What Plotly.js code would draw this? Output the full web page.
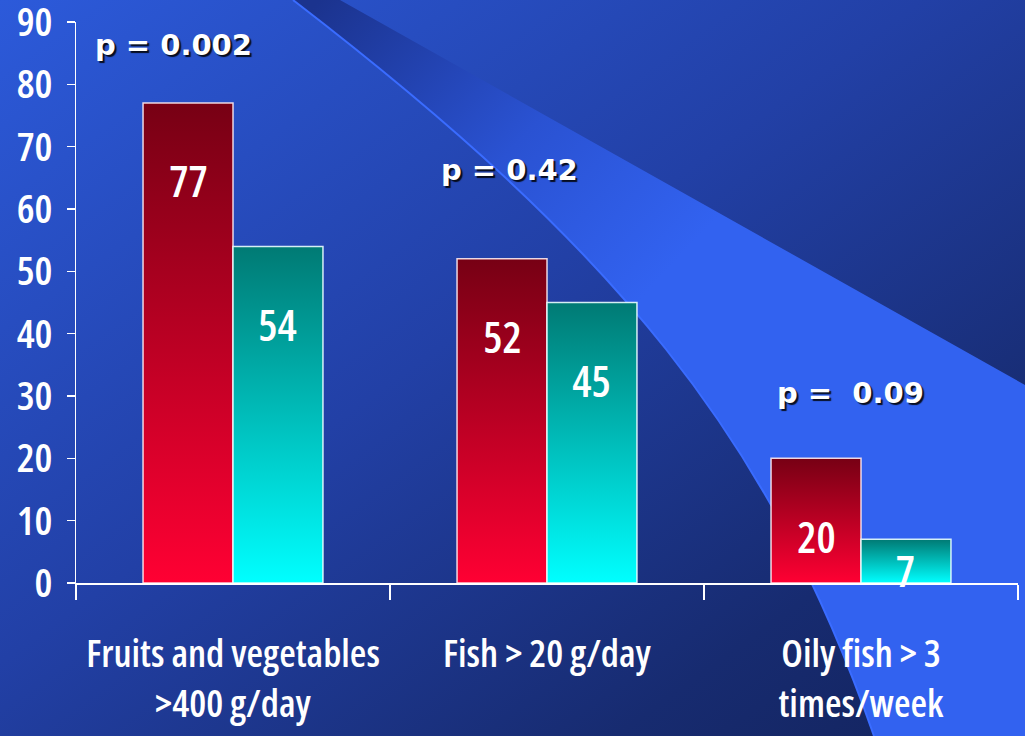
<!DOCTYPE html>
<html><head><meta charset="utf-8">
<script src="https://cdn.plot.ly/plotly-3.0.1.min.js"></script>
<style>
html,body{margin:0;padding:0;background:#1e3a9a;overflow:hidden;}
#chart{width:1025px;height:736px;background-size:100% 100%;background-repeat:no-repeat;}
#chart svg text{font-stretch:75%;}
#chart g.annotation[data-index="6"] text,
#chart g.annotation[data-index="7"] text,
#chart g.annotation[data-index="8"] text{font-stretch:100% !important;}
</style></head><body><div id="chart"></div>
<script>
// ---- data ----
const categories = ["Fruits and vegetables<br>>400 g/day", "Fish > 20 g/day", "Oily fish > 3<br>times/week"];
const seriesA = [77, 52, 20];   // red bars
const seriesB = [54, 45, 7];    // teal bars
const pLabels = ["p = 0.002", "p = 0.42", "p =\u00A0 0.09"];
const yTickVals = [0, 10, 20, 30, 40, 50, 60, 70, 80, 90];

// ---- background (decorative slide backdrop) ----
const bgSvg = `<svg xmlns="http://www.w3.org/2000/svg" width="1025" height="736" viewBox="0 0 1025 736">
<defs>
<linearGradient id="base" x1="0" y1="0" x2="1" y2="1">
<stop offset="0" stop-color="#2c5ada"/><stop offset="0.45" stop-color="#2240a6"/><stop offset="0.8" stop-color="#172b70"/><stop offset="1" stop-color="#13235c"/>
</linearGradient>
<linearGradient id="band" gradientUnits="userSpaceOnUse" x1="320" y1="0" x2="640" y2="300">
<stop offset="0" stop-color="#1b338e"/><stop offset="0.55" stop-color="#2a52d2"/><stop offset="1" stop-color="#3262f0"/>
</linearGradient>
</defs>
<rect width="1025" height="736" fill="url(#base)"/>
<path d="M293,0 C618,250 769,436 874,736 L1025,736 L1025,385 L340,0 Z" fill="url(#band)"/>
<path d="M293,0 C618,250 769,436 874,736" fill="none" stroke="#3a6cff" stroke-width="2"/>
</svg>`;
document.getElementById('chart').style.backgroundImage = 'url("data:image/svg+xml;charset=utf-8,' + encodeURIComponent(bgSvg) + '")';

const NARROW = "'Open Sans', 'Roboto Condensed', sans-serif";
const WIDE = "'DejaVu Sans', Verdana, sans-serif";

const bargap = 0.427;
const off = (1 - bargap) / 4;

const traces = [
  {type: 'bar', x: categories, y: seriesA, marker: {color: '#c0002a', line: {color: 'rgba(255,235,240,0.9)', width: 1.5}}, hoverinfo: 'none'},
  {type: 'bar', x: categories, y: seriesB, marker: {color: '#00c0c0', line: {color: 'rgba(235,255,255,0.9)', width: 1.5}}, hoverinfo: 'none'}
];

function labelY(v) { return Math.max(v - 12.5, v * 0.28); }

const annotations = [];
[seriesA, seriesB].forEach((s, k) => {
  s.forEach((v, i) => {
    annotations.push({x: i + (k === 0 ? -off : off), y: labelY(v), xref: 'x', yref: 'y', text: String(v), showarrow: false,
      yanchor: 'middle', xanchor: 'center', font: {family: NARROW, size: 43, color: '#ffffff', weight: 600}});
  });
});
const pPos = [[-0.19, 86.3], [0.88, 66.3], [1.965, 30.5]];
pLabels.forEach((t, i) => {
  annotations.push({x: pPos[i][0], y: pPos[i][1], xref: 'x', yref: 'y', text: t, showarrow: false, xanchor: 'center', yanchor: 'middle',
    font: {family: WIDE, size: 29, color: '#ffffff', weight: 'bold', shadow: '2px 2px 1px rgba(0,0,0,0.85)'}});
});

const layout = {
  width: 1025, height: 736,
  margin: {l: 76, r: 7, t: 22, b: 153, pad: 0},
  paper_bgcolor: 'rgba(0,0,0,0)', plot_bgcolor: 'rgba(0,0,0,0)',
  barmode: 'group', bargap: bargap, bargroupgap: 0,
  showlegend: false,
  font: {family: NARROW, color: '#ffffff'},
  xaxis: {type: 'category', tickson: 'boundaries', ticks: 'outside', ticklen: 15, tickwidth: 1.5, tickcolor: '#ffffff',
    showline: true, linecolor: '#ffffff', linewidth: 1.5, showgrid: false, zeroline: false, tickangle: 0,
    tickfont: {family: NARROW, size: 38, color: '#ffffff', weight: 600}, ticklabelstandoff: 37, ticklabeloverflow: 'allow'},
  yaxis: {range: [0, 90], tickvals: yTickVals, ticktext: yTickVals.map(String), ticks: 'outside', ticklen: 8, tickwidth: 1.5, tickcolor: '#ffffff',
    showline: true, linecolor: '#ffffff', linewidth: 1.5, showgrid: false, zeroline: false,
    tickfont: {family: NARROW, size: 40, color: '#ffffff', weight: 600}, ticklabelstandoff: 6, ticklabeloverflow: 'allow'},
  annotations: annotations
};

Plotly.newPlot('chart', traces, layout, {displayModeBar: false, staticPlot: true}).then(gd => {
  const svg = gd.querySelector('svg.main-svg');
  let defs = svg.querySelector('defs');
  const ns = 'http://www.w3.org/2000/svg';
  function grad(id, top, bottom) {
    const g = document.createElementNS(ns, 'linearGradient');
    g.setAttribute('id', id); g.setAttribute('x1', '0'); g.setAttribute('y1', '0'); g.setAttribute('x2', '0'); g.setAttribute('y2', '1');
    [[0, top], [1, bottom]].forEach(([o, c]) => {
      const s = document.createElementNS(ns, 'stop'); s.setAttribute('offset', o); s.setAttribute('stop-color', c); g.appendChild(s);
    });
    defs.appendChild(g);
  }
  grad('gradRed', '#770014', '#ff0033');
  grad('gradTeal', '#007a74', '#00ffff');
  gd.querySelectorAll('.barlayer .trace').forEach((t, i) => {
    t.querySelectorAll('.point path').forEach(p => { p.style.fill = 'url(#' + (i === 0 ? 'gradRed' : 'gradTeal') + ')'; });
  });
});
</script>
</body></html>
